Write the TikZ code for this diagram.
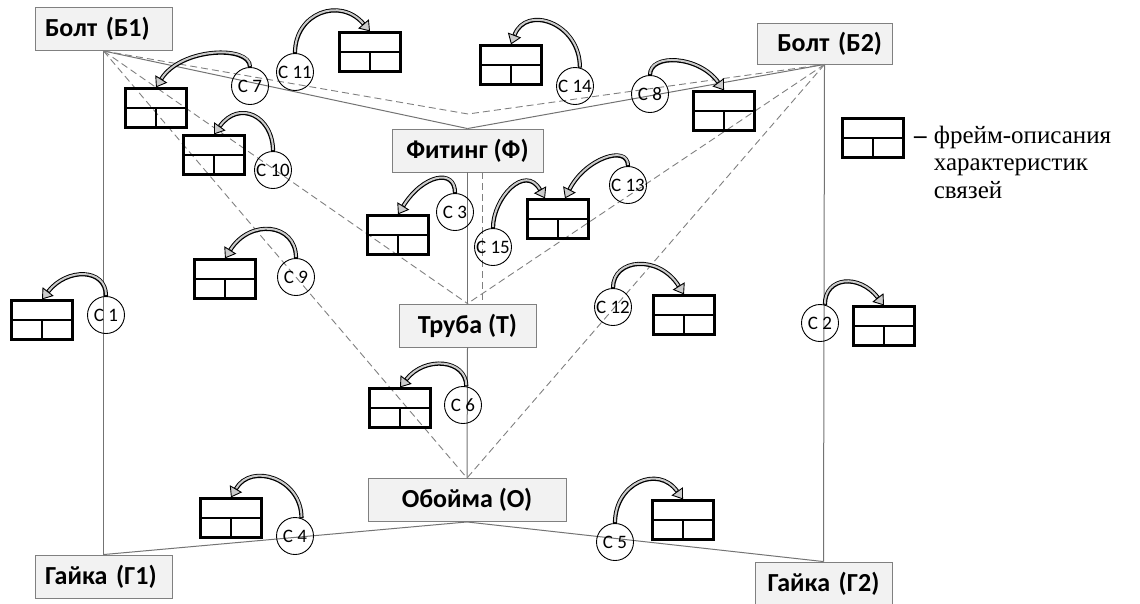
\documentclass[tikz,border=0pt]{standalone}
\usepackage{fontspec}
\setmainfont{Carlito}
\newfontfamily\legfont{Liberation Serif}
\usetikzlibrary{positioning,arrows.meta,calc}

\begin{document}
\begin{tikzpicture}[x=1pt,y=-1pt,
bx/.style={draw=black!50,fill=black!5,line width=0.9pt,minimum height=43pt,inner xsep=10pt,inner ysep=0pt,font=\fontsize{26}{30}\selectfont\bfseries},
cc/.style={circle,draw,line width=0.9pt,minimum size=37pt,inner sep=0pt,font=\fontsize{19}{22}\selectfont},
frm/.style={draw,line width=2.2pt,minimum width=61pt,minimum height=39pt,inner sep=0pt,
  path picture={\draw[line width=2.2pt] (path picture bounding box.west) -- (path picture bounding box.east)
    (path picture bounding box.center) -- (path picture bounding box.south);}},
lnk/.style={draw=black!55,line width=1pt},
dlnk/.style={draw=black!50,line width=0.9pt,dash pattern=on 7pt off 4pt},
crv/.style={draw=black,line width=4.2pt,-{Triangle[length=10pt,width=14pt,line width=0.9pt,fill=black!20]},
  postaction={draw=black!20,line width=2pt,arrows=-,shorten >=10.5pt,shorten <=1pt}}]
\useasboundingbox (0,0) rectangle (1140,603);
\node[bx,text width=117pt,align=left] (b1) at (103.5,29) {Болт (Б1)};
\node[bx,text width=115pt,align=right,minimum height=41pt] (b2) at (824.5,43.5) {Болт (Б2)};
\node[bx,minimum width=151pt] (fit) at (467.5,150.5) {Фитинг (Ф)};
\node[bx,minimum width=137pt] (tr) at (467.5,325.5) {Труба (Т)};
\node[bx,minimum width=198pt] (ob) at (467,500) {Обойма (О)};
\node[bx,text width=117pt,align=left] (g1) at (103.5,576.5) {Гайка (Г1)};
\node[bx,text width=117pt,align=center] (g2) at (823.5,583.5) {Гайка (Г2)};
\coordinate (v) at (468,114);
\draw[lnk] (b1.south) -- (g1.north);
\draw[lnk] (b2.south) -- (g2.north);
\draw[lnk] (b1.south) -- (fit.north);
\draw[lnk] (b2.south) -- (fit.north);
\draw[lnk] (fit.south) -- (tr.north);
\draw[lnk] (tr.south) -- (ob.north);
\draw[lnk] (g1.north) -- (ob.south);
\draw[lnk] (ob.south) -- (g2.north);
\draw[dlnk] (b1.south) -- (v) -- (b2.south);
\draw[dlnk] (b1.south) -- (tr.north);
\draw[dlnk] (b1.south) -- (ob.north);
\draw[dlnk] (b2.south) -- (tr.north);
\draw[dlnk] (b2.south) -- (ob.north);
\draw[dlnk] ([xshift=15pt]fit.south) -- ([xshift=15pt]tr.north);
\node[cc] (c1) at (106,315) {С 1};
\node[cc] (c2) at (820,323) {С 2};
\node[cc] (c3) at (455,212) {С 3};
\node[cc] (c4) at (295,536) {С 4};
\node[cc] (c5) at (615,542) {С 5};
\node[cc] (c6) at (463,405) {С 6};
\node[cc] (c7) at (250,86) {С 7};
\node[cc] (c8) at (650,94) {С 8};
\node[cc] (c9) at (296,277) {С 9};
\node[cc] (c10) at (273,170) {С 10};
\node[cc] (c11) at (295,72) {С 11};
\node[cc] (c12) at (613,307) {С 12};
\node[cc] (c13) at (628,185) {С 13};
\node[cc] (c14) at (575,86) {С 14};
\node[cc] (c15) at (493,247) {С 15};
\node[frm] (f1) at (42,320) {};
\node[frm] (f2) at (884,326) {};
\node[frm] (f3) at (398,235) {};
\node[frm] (f4) at (231,518) {};
\node[frm] (f5) at (683,520) {};
\node[frm] (f6) at (400,408) {};
\node[frm] (f7) at (156,108) {};
\node[frm] (f8) at (724,111) {};
\node[frm] (f9) at (225,279) {};
\node[frm] (f10) at (214,155) {};
\node[frm] (f11) at (370,52) {};
\node[frm] (f12) at (684,315) {};
\node[frm] (f13) at (558,219) {};
\node[frm] (f14) at (511,65) {};
\draw[crv] (c1.north) .. controls +(0,-28) and +(25,-32) .. (f1.north);
\draw[crv] (c2.75) .. controls +(0,-28) and +(-25,-32) .. (f2.north);
\draw[crv] (c3.north) .. controls +(0,-25) and +(25,-40) .. (f3.north);
\draw[crv] (c4.70) .. controls +(0,-40) and +(20,-35) .. (f4.north);
\draw[crv] (c5.north) .. controls +(0,-40) and +(-25,-35) .. (f5.north);
\draw[crv] (c6.80) .. controls +(0,-27) and +(25,-32) .. (f6.north);
\draw[crv] (c7.north) .. controls +(0,-22) and +(25,-40) .. (f7.north);
\draw[crv] (c8.north) .. controls +(0,-22) and +(-25,-35) .. (f8.north);
\draw[crv] (c9.north) .. controls +(0,-35) and +(25,-40) .. (f9.north);
\draw[crv] (c10.north) .. controls +(0,-35) and +(25,-35) .. (f10.north);
\draw[crv] (c11.north) .. controls +(0,-40) and +(-30,-35) .. (f11.north);
\draw[crv] (c12.north) .. controls +(0,-30) and +(-25,-40) .. (f12.north);
\draw[crv] (c13.north) .. controls +(0,-22) and +(20,-40) .. ([xshift=7pt]f13.north);
\draw[crv] (c14.75) .. controls +(0,-45) and +(15,-40) .. (f14.north);
\draw[crv] (c15.north) .. controls +(0,-30) and +(-20,-35) .. ([xshift=-13pt]f13.north);
\node[frm] (leg) at (873,138) {};
\node[anchor=base west,inner sep=0pt,font=\legfont\fontsize{25}{27.5}\selectfont] (legtxt) at (914,143)
  {\begin{tabular}[t]{@{}l@{\hspace{7pt}}l@{}}\textbf{–}&фрейм-описания\\&характеристик\\&связей\end{tabular}};
\end{tikzpicture}
\end{document}
